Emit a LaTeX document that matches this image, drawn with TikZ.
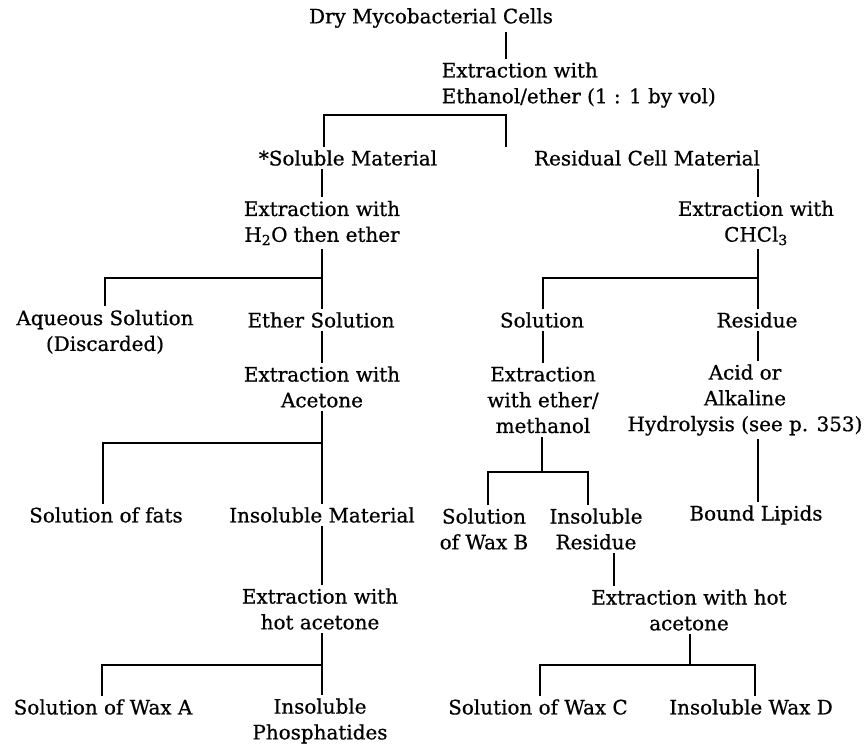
\documentclass[tikz,border=0pt]{standalone}
\usepackage{fontspec}
\setmainfont{DejaVu Serif}[FakeBold=0.7]
\usepackage{tikz}

\begin{document}
\begin{tikzpicture}[x=0.03cm, y=-0.03cm,
    stage/.style={font=\fontsize{17}{22}\selectfont, align=center, inner sep=3pt},
    link/.style={line width=1.2pt}]
    \useasboundingbox (0,0) rectangle (867,747);

    \node [stage] (dry) at (431,18) {Dry Mycobacterial Cells};
    \node [stage, align=left, anchor=west] (ext1) at (438,85) {Extraction with\\Ethanol/ether (1 : 1 by vol)};

    % soluble side
    \node [stage] (sol) at (348,158) {*Soluble Material};
    \node [stage] (ext2) at (322,223) {Extraction with\\H\textsubscript{2}O then ether};
    \node [stage] (aq) at (105,332) {Aqueous Solution\\(Discarded)};
    \node [stage] (eth) at (321,320) {Ether Solution};
    \node [stage] (ext4) at (322,387) {Extraction with\\Acetone};
    \node [stage] (fats) at (106,515) {Solution of fats};
    \node [stage] (insol) at (322,515) {Insoluble Material};
    \node [stage] (ext6) at (320,609) {Extraction with\\hot acetone};
    \node [stage] (waxa) at (103,707) {Solution of Wax A};
    \node [stage] (phos) at (320,721) {Insoluble\\Phosphatides};

    % residue side
    \node [stage] (res) at (647,158) {Residual Cell Material};
    \node [stage] (ext3) at (756,223) {Extraction with\\CHCl\textsubscript{3}};
    \node [stage] (soln) at (542,320) {Solution};
    \node [stage] (resid) at (757,320) {Residue};
    \node [stage] (ext5) at (543,400) {Extraction\\with ether/\\methanol};
    \node [stage] (acid) at (745,400) {Acid or\\Alkaline\\Hydrolysis (see p. 353)};
    \node [stage] (waxb) at (484,529) {Solution\\of Wax B};
    \node [stage] (insres) at (596,529) {Insoluble\\Residue};
    \node [stage] (bound) at (756,515) {Bound Lipids};
    \node [stage] (ext7) at (689,610) {Extraction with hot\\acetone};
    \node [stage] (waxc) at (538,707) {Solution of Wax C};
    \node [stage] (waxd) at (751,707) {Insoluble Wax D};

    % split points
    \coordinate (s1) at (506,115);  \coordinate (s1l) at (324,115);
    \coordinate (s2) at (322,278);  \coordinate (s2l) at (105,278);
    \coordinate (s3) at (758,278);  \coordinate (s3l) at (543,278);
    \coordinate (s4) at (322,443);  \coordinate (s4l) at (103,443);
    \coordinate (s5) at (542,472);  \coordinate (s5l) at (488,472);  \coordinate (s5r) at (588,472);
    \coordinate (s6) at (322,665);  \coordinate (s6l) at (102,665);
    \coordinate (s7) at (690,665);  \coordinate (s7l) at (540,665);  \coordinate (s7r) at (755,665);
    \coordinate (hot) at (614,570);

    \draw [link] (dry.south -| s1) -- (ext1.north -| s1);
    \draw [link] (res.north -| s1) -- (s1) -- (s1l) -- (sol.north -| s1l);

    \draw [link] (sol.south -| s2) -- (ext2.north -| s2);
    \draw [link] (ext2.south -| s2) -- (eth.north -| s2);
    \draw [link] (s2) -- (s2l) -- (aq.north -| s2l);
    \draw [link] (eth.south -| s4) -- (ext4.north -| s4);
    \draw [link] (ext4.south -| s4) -- (insol.north -| s4);
    \draw [link] (s4) -- (s4l) -- (fats.north -| s4l);
    \draw [link] (insol.south -| s6) -- (ext6.north -| s6);
    \draw [link] (ext6.south -| s6) -- (phos.north -| s6);
    \draw [link] (s6) -- (s6l) -- (waxa.north -| s6l);

    \draw [link] (res.south -| s3) -- (ext3.north -| s3);
    \draw [link] (ext3.south -| s3) -- (resid.north -| s3);
    \draw [link] (s3) -- (s3l) -- (soln.north -| s3l);
    \draw [link] (soln.south -| s3l) -- (ext5.north -| s3l);
    \draw [link] (resid.south -| s3) -- (acid.north -| s3);
    \draw [link] (acid.south -| s3) -- (bound.north -| s3);
    \draw [link] (ext5.south -| s5) -- (s5);
    \draw [link] (waxb.north -| s5l) -- (s5l) -- (s5r) -- (insres.north -| s5r);
    \draw [link] (insres.south -| hot) -- (ext7.north -| hot);
    \draw [link] (ext7.south -| s7) -- (s7);
    \draw [link] (waxc.north -| s7l) -- (s7l) -- (s7r) -- (waxd.north -| s7r);
\end{tikzpicture}
\end{document}
